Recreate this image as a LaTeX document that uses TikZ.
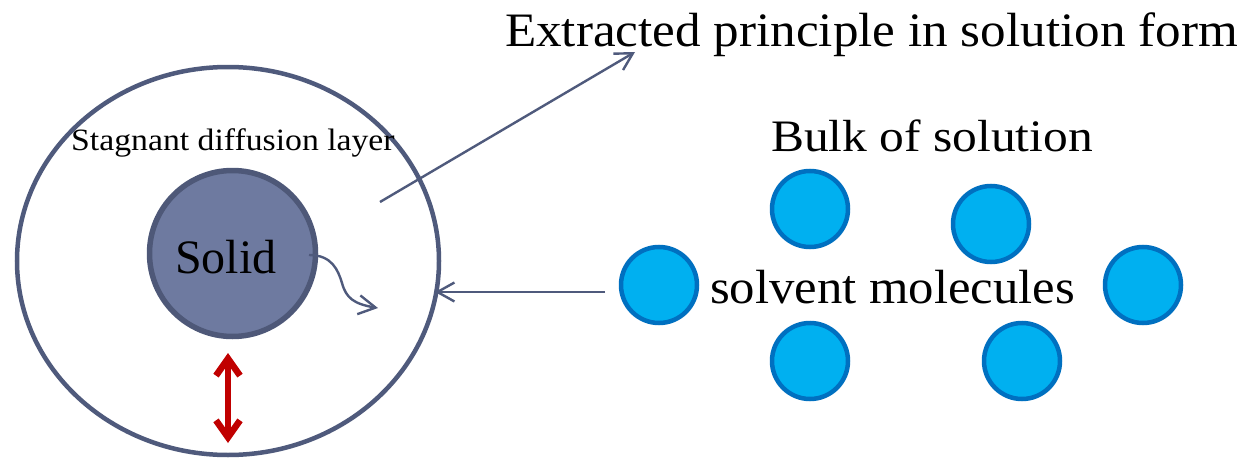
\documentclass[tikz,border=0pt]{standalone}
\usepackage{fontspec}
\setmainfont{Liberation Serif}
\usetikzlibrary{shapes.geometric,arrows.meta}
\definecolor{slate}{HTML}{4F5A7C}
\definecolor{solidfill}{HTML}{6E7AA0}
\definecolor{soliddraw}{HTML}{4E5878}
\definecolor{molfill}{HTML}{00B0F0}
\definecolor{moldraw}{HTML}{0070C0}
\definecolor{darkred}{HTML}{C00000}
\newcommand{\fs}[1]{\fontsize{#1}{#1}\selectfont}
\begin{document}
\begin{tikzpicture}[x=1pt,y=-1pt,
  molecule/.style={circle,draw=moldraw,fill=molfill,line width=4.5pt,minimum size=76pt,inner sep=0pt},
  label/.style={anchor=base west,inner sep=0pt,text=black},
  flow/.style={draw=slate,line width=2.4pt,-{Straight Barb[length=17pt,width=19pt]}},
  thick arrow/.style={draw=darkred,line width=6.5pt,{Straight Barb[length=17pt,width=24pt]}-{Straight Barb[length=17pt,width=24pt]}}]
\useasboundingbox (0,0) rectangle (1254,463);
\fill[white] (0,0) rectangle (1254,463);

% diffusion layer and the solid particle
\node[ellipse,draw=slate,line width=4.5pt,minimum width=422pt,minimum height=388pt,inner sep=0pt] (layer) at (228,261) {};
\node[circle,draw=soliddraw,fill=solidfill,line width=5.5pt,minimum size=166pt,inner sep=0pt] (solid) at (232.5,253.5) {};
\node[label] (solidtxt) at (175,273) {\fs{48}Solid};
\node[label] (layertxt) at (71,150) {\fs{31}\scalebox{1.088}[1]{Stagnant diffusion layer}};

% solvent molecules
\node[molecule] (m1) at (810,209) {};
\node[molecule] (m2) at (991,224) {};
\node[molecule] (m3) at (659,285) {};
\node[molecule] (m4) at (1143,285) {};
\node[molecule] (m5) at (810,361) {};
\node[molecule] (m6) at (1022,361) {};

% labels on the right
\node[label] (title) at (505,46) {\fs{48}\scalebox{1.065}[1]{Extracted principle in solution form}};
\node[label] (bulk) at (771,151) {\fs{45}\scalebox{1.10}[1]{Bulk of solution}};
\node[label] (solvent) at (710,303) {\fs{48}\scalebox{1.057}[1]{solvent molecules}};

% connectors
\coordinate (outStart) at (380,202);
\coordinate (outTip) at (635,52);
\coordinate (inStart) at (605,292);
\coordinate (inTip) at (435,292);
\coordinate (wavyStart) at (309,255);
\coordinate (wavyTip) at (378,308);
\coordinate (gapTop) at (228,353);
\coordinate (gapBot) at (228,443);

\draw[flow] (outStart) -- (outTip);
\draw[flow] (inStart) -- (inTip);
\draw[flow] (wavyStart) .. controls (332,255) and (338,270) .. (342,283)
  .. controls (346,298) and (354,304) .. (wavyTip);
\draw[thick arrow] (gapTop) -- (gapBot);
\end{tikzpicture}
\end{document}
